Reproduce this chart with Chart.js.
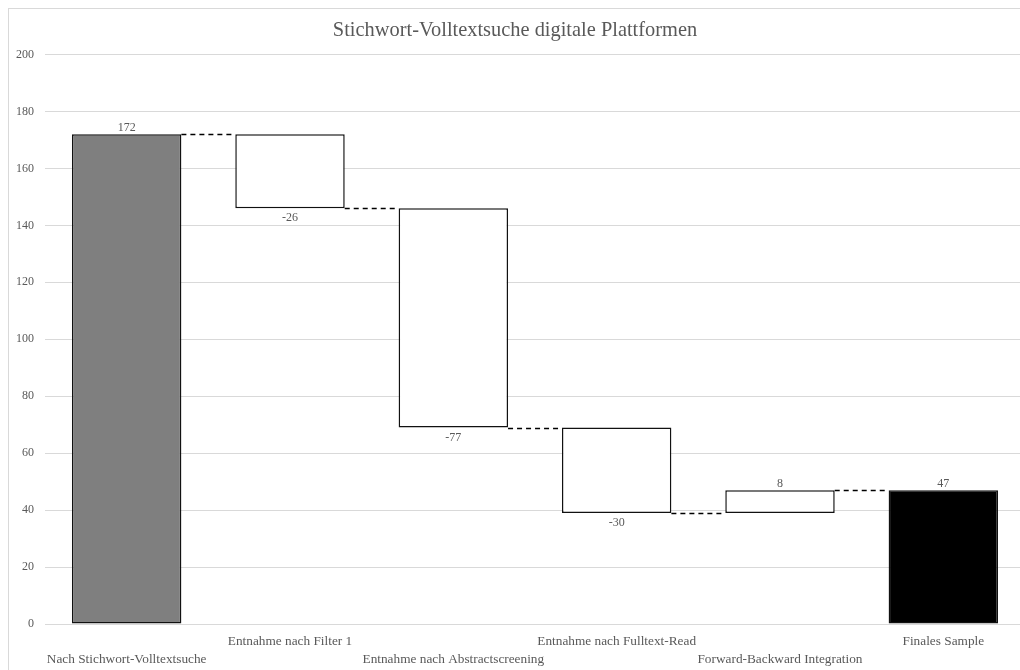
<!DOCTYPE html>
<html>
<head>
<meta charset="utf-8">
<script src="https://cdn.jsdelivr.net/npm/chart.js@4/dist/chart.umd.min.js"></script>
<style>
  html, body { margin: 0; padding: 0; background: #fff; overflow: hidden; }
  #frame { position: absolute; left: 8px; top: 8px; width: 1024px; height: 664px; border: 1px solid #d9d9d9; }
</style>
</head>
<body>
<div id="frame"><canvas id="chart" width="1024" height="664"></canvas></div>
<script>
// categories, staggered over two rows like the original
const categories = [
  ['', 'Nach Stichwort-Volltextsuche'],
  ['Entnahme nach Filter 1', ''],
  ['', 'Entnahme nach Abstractscreening'],
  ['Entnahme nach Fulltext-Read', ''],
  ['', 'Forward-Backward Integration'],
  ['Finales Sample', '']
];
const values = [172, -26, -77, -30, 8, 47];
const kinds = ['total', 'delta', 'delta', 'delta', 'delta', 'total'];
const yTicks = [0, 20, 40, 60, 80, 100, 120, 140, 160, 180, 200];

const fillColors = { total: '#7f7f7f', delta: '#ffffff', last: '#000000' };

// floating ranges for the waterfall
let running = 0;
const ranges = values.map((v, i) => {
  if (kinds[i] === 'total') {
    running = v;
    return [0, v];
  }
  const start = running;
  running += v;
  return [start, running];
});
const levels = ranges.map(r => r[1]); // level after each step

const serif = '"Liberation Serif", "Times New Roman", serif';
const grey = '#595959';

const waterfallExtras = {
  id: 'waterfallExtras',
  afterDatasetsDraw(chart) {
    const ctx = chart.ctx;
    const y = chart.scales.y;
    const bars = chart.getDatasetMeta(0).data;

    // dashed connectors
    ctx.save();
    ctx.strokeStyle = '#000';
    ctx.lineWidth = 1.5;
    ctx.setLineDash([5, 4]);
    for (let i = 0; i < bars.length - 1; i++) {
      const a = bars[i], b = bars[i + 1];
      const py = Math.round(y.getPixelForValue(levels[i])) + 0.5;
      ctx.beginPath();
      ctx.moveTo(a.x + a.width / 2, py);
      ctx.lineTo(b.x - b.width / 2, py);
      ctx.stroke();
    }
    ctx.restore();

    // value labels
    ctx.save();
    ctx.fillStyle = grey;
    ctx.font = '12px ' + serif;
    ctx.textAlign = 'center';
    bars.forEach((bar, i) => {
      const v = values[i];
      const top = y.getPixelForValue(Math.max(ranges[i][0], ranges[i][1]));
      const bottom = y.getPixelForValue(Math.min(ranges[i][0], ranges[i][1]));
      if (v >= 0) {
        ctx.textBaseline = 'bottom';
        ctx.fillText(String(v), bar.x, top);
      } else {
        ctx.textBaseline = 'top';
        ctx.fillText(String(v), bar.x, bottom + 4);
      }
    });
    ctx.restore();
  }
};

new Chart(document.getElementById('chart'), {
  type: 'bar',
  data: {
    labels: categories,
    datasets: [{
      data: ranges,
      backgroundColor: values.map((v, i) =>
        i === values.length - 1 ? fillColors.last : fillColors[kinds[i]]),
      borderColor: '#111111',
      borderWidth: 1.5,
      borderSkipped: false,
      categoryPercentage: 1,
      barPercentage: 0.67
    }]
  },
  options: {
    responsive: false,
    animation: false,
    layout: { padding: { left: -4, right: 8, bottom: 5, top: 0 } },
    plugins: {
      legend: { display: false },
      tooltip: { enabled: false },
      title: {
        display: true,
        text: 'Stichwort-Volltextsuche digitale Plattformen',
        color: grey,
        font: { family: serif, size: 20.4, weight: 'normal' },
        padding: { top: 9, bottom: 12 }
      }
    },
    scales: {
      x: {
        grid: { display: false },
        border: { display: false },
        ticks: {
          color: grey,
          font: { family: serif, size: 13.3, lineHeight: 1.35 },
          maxRotation: 0,
          minRotation: 0,
          autoSkip: false,
          padding: 0
        }
      },
      y: {
        min: 0,
        max: 200,
        afterBuildTicks(scale) {
          scale.ticks = yTicks.map(v => ({ value: v }));
        },
        grid: { color: '#d9d9d9', lineWidth: 1, drawTicks: false },
        border: { display: false },
        ticks: {
          color: grey,
          font: { family: serif, size: 12 },
          padding: 11
        }
      }
    }
  },
  plugins: [waterfallExtras]
});
</script>
</body>
</html>
